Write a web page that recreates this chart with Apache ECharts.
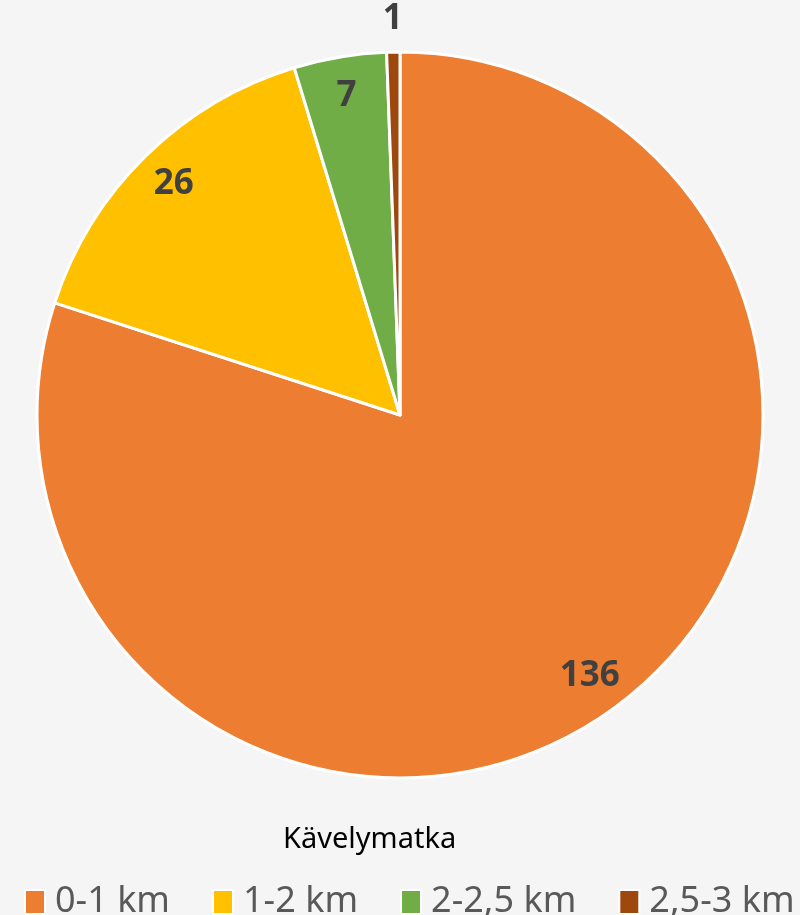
<!DOCTYPE html>
<html lang="fi">
<head>
    <meta charset="UTF-8">
    <title>Kävelymatka</title>
    <script src="https://cdn.jsdelivr.net/npm/echarts/dist/echarts.min.js"></script>
    <style>
        body { margin: 0; background: #f5f5f5; }
        #chart { width: 800px; height: 915px; }
    </style>
</head>
<body>
<div id="chart"></div>
<script>
    // data
    const categories = ['0-1 km', '1-2 km', '2-2,5 km', '2,5-3 km'];
    const counts = [136, 26, 7, 1];
    const colors = ['#ED7D31', '#FFC000', '#70AD47', '#9E480E'];
    // which labels sit outside the pie (the tiny slice)
    const outsideLabel = [false, false, false, true];

    const chart = echarts.init(document.getElementById('chart'));

    const labelStyle = {
        formatter: '{c}',
        fontFamily: 'Noto Sans',
        fontWeight: 'bold',
        fontSize: 35,
        color: '#404040'
    };

    // transparent ring used only to place labels at a given radius
    function labelRing(radius, showOutside) {
        return {
            type: 'pie',
            center: [400, 415],
            radius: radius,
            startAngle: 90,
            silent: true,
            avoidLabelOverlap: false,
            itemStyle: { color: 'transparent', borderWidth: 0 },
            emphasis: { disabled: true },
            labelLine: { show: false },
            data: categories.map((name, i) => ({
                name: name,
                value: counts[i],
                label: Object.assign({ show: outsideLabel[i] === showOutside, position: 'inside' }, labelStyle)
            }))
        };
    }

    chart.setOption({
        backgroundColor: '#f5f5f5',
        color: colors,
        title: {
            text: 'Kävelymatka',
            left: 278,
            top: 820,
            textStyle: { fontFamily: 'Noto Sans', fontWeight: 'normal', fontSize: 29, color: '#000' }
        },
        legend: {
            data: categories,
            left: 19,
            top: 879,
            itemWidth: 20,
            itemHeight: 24,
            itemGap: 42,
            icon: 'rect',
            itemStyle: { borderColor: '#fff', borderWidth: 2 },
            textStyle: { fontFamily: 'Noto Sans', fontSize: 36, color: '#595959', padding: [0, 0, 0, 5] }
        },
        series: [
            {
                type: 'pie',
                center: [400, 415],
                radius: [0, 363],
                startAngle: 90,
                itemStyle: { borderColor: '#fff', borderWidth: 3 },
                label: { show: false },
                labelLine: { show: false },
                emphasis: { scale: false },
                data: categories.map((name, i) => ({ name: name, value: counts[i] }))
            },
            labelRing([277, 363], false),
            labelRing([368, 418], true)
        ]
    });
</script>
</body>
</html>
